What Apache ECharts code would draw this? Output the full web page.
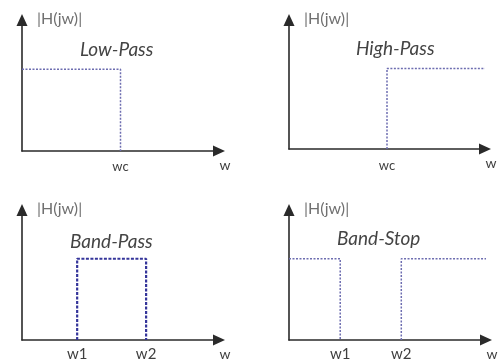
<!DOCTYPE html>
<html>
<head>
<meta charset="utf-8">
<script src="https://cdn.jsdelivr.net/npm/echarts@6/dist/echarts.min.js"></script>
<style>
html,body{margin:0;padding:0;background:#fff;}
#c{width:501px;height:362px;}
</style>
</head>
<body>
<div id="c"></div>
<script>
// ---- data ----
const panelTitles = ['Low-Pass', 'High-Pass', 'Band-Pass', 'Band-Stop'];
const yAxisName = '|H(jw)|';
const xAxisName = 'w';

const lowPassX = [0, 5, 5];
const lowPassY = [1, 1, 0];
const lowPassTickValues = [5];
const lowPassTickLabels = ['wc'];

const highPassX = [5, 5, 10];
const highPassY = [0, 1, 1];
const highPassTickValues = [5];
const highPassTickLabels = ['wc'];

const bandPassX = [2.8, 2.8, 6.3, 6.3];
const bandPassY = [0, 1, 1, 0];
const bandPassTickValues = [2.8, 6.3];
const bandPassTickLabels = ['w1', 'w2'];

const bandStopLowX = [0, 2.6, 2.6];
const bandStopLowY = [1, 1, 0];
const bandStopHighX = [5.7, 5.7, 10];
const bandStopHighY = [0, 1, 1];
const bandStopTickValues = [2.6, 5.7];
const bandStopTickLabels = ['w1', 'w2'];

// ---- build ----
const FONT = 'Lato, "Open Sans", sans-serif';
const zip = (xs, ys) => xs.map((x, i) => [x, ys[i]]);

const grids = [
  {left: 22, top: 20, width: 197, height: 131},
  {left: 289, top: 20, width: 196, height: 129},
  {left: 22, top: 210, width: 197, height: 133},
  {left: 289, top: 210, width: 197, height: 130}
];
const tickSets = [
  [lowPassTickValues, lowPassTickLabels, 13, 9],
  [highPassTickValues, highPassTickLabels, 13, 10],
  [bandPassTickValues, bandPassTickLabels, 15, 7],
  [bandStopTickValues, bandStopTickLabels, 15, 7]
];
const titlePos = [
  {left: 80, top: 40},
  {left: 356, top: 39},
  {left: 70, top: 232},
  {left: 337, top: 229}
];

const axisLineStyle = {color: '#2a2a2a', width: 1.6};

const xAxes = tickSets.map((t, i) => ({
  type: 'value', gridIndex: i, min: 0, max: 10,
  splitLine: {show: false},
  axisTick: {show: false},
  axisLine: {show: true, onZero: false, lineStyle: axisLineStyle, symbol: ['none', 'triangle'], symbolSize: [11, 12]},
  axisLabel: {
    show: true, customValues: t[0], margin: t[3],
    color: '#3f3f3f', fontFamily: FONT, fontSize: t[2],
    formatter: v => { const k = t[0].indexOf(v); return k >= 0 ? t[1][k] : ''; }
  },
  name: xAxisName, nameLocation: 'end', nameGap: 6,
  nameTextStyle: {color: '#3f3f3f', fontFamily: FONT, fontSize: 14, align: 'center', verticalAlign: 'top', padding: [7, 0, 0, 0]}
}));

const yAxes = grids.map((g, i) => ({
  type: 'value', gridIndex: i, min: 0, max: 1.6,
  splitLine: {show: false},
  axisTick: {show: false},
  axisLabel: {show: false},
  axisLine: {show: true, onZero: false, lineStyle: axisLineStyle, symbol: ['none', 'triangle'], symbolSize: [11, 12]},
  name: yAxisName, nameLocation: 'end', nameGap: 1,
  nameTextStyle: {color: '#707070', fontFamily: FONT, fontSize: 16, align: 'left', verticalAlign: 'middle', padding: [0, 0, 0, 15]}
}));

const dotted = {color: '#6d6db0', width: 1.5, type: [2, 1.5]};
const bold = {color: '#35359a', width: 2.2, type: [3, 1.5]};

function line(i, xs, ys, style) {
  return {
    type: 'line', xAxisIndex: i, yAxisIndex: i, data: zip(xs, ys),
    symbol: 'none', lineStyle: style, silent: true, animation: false, clip: false
  };
}

const option = {
  backgroundColor: '#fff',
  animation: false,
  grid: grids,
  xAxis: xAxes,
  yAxis: yAxes,
  title: panelTitles.map((t, i) => ({
    text: t, left: titlePos[i].left, top: titlePos[i].top, padding: 0,
    textStyle: {fontFamily: FONT, fontStyle: 'italic', fontWeight: 'normal', fontSize: 19, color: '#444'}
  })),
  series: [
    line(0, lowPassX, lowPassY, dotted),
    line(1, highPassX, highPassY, dotted),
    line(2, bandPassX, bandPassY, bold),
    line(3, bandStopLowX, bandStopLowY, dotted),
    line(3, bandStopHighX, bandStopHighY, dotted)
  ]
};

const chart = echarts.init(document.getElementById('c'), null, {renderer: 'canvas'});
chart.setOption(option);
</script>
</body>
</html>
